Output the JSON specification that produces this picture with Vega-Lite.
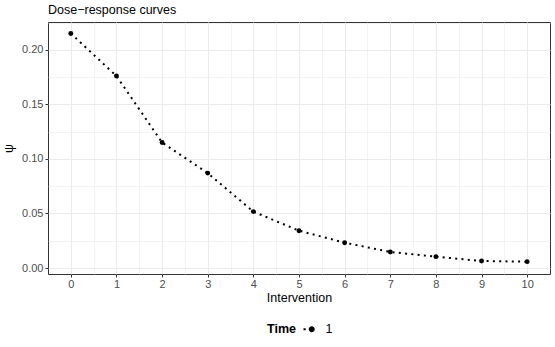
{
  "$schema": "https://vega.github.io/schema/vega-lite/v6.json",
  "width": 502,
  "height": 252,
  "autosize": {"type": "none"},
  "padding": {"left": 48, "top": 22, "right": 5, "bottom": 73},
  "background": "white",
  "title": {"text": "Dose−response curves", "anchor": "start", "frame": "group", "fontSize": 12.5, "fontWeight": "normal", "font": "Liberation Sans", "color": "black", "offset": 0},
  "config": {
    "view": {"stroke": "#333333", "strokeWidth": 1},
    "axis": {
      "domain": false,
      "labelFont": "Liberation Sans",
      "labelFontSize": 11,
      "labelColor": "#4D4D4D",
      "titleFont": "Liberation Sans",
      "titleFontSize": 12.5,
      "titleFontWeight": "normal",
      "titleColor": "black",
      "tickColor": "#333333",
      "tickSize": 3,
      "gridColor": "#EBEBEB"
    }
  },
  "data": {
    "values": [
      {"Intervention": 0, "psi": 0.215, "Time": "1"},
      {"Intervention": 1, "psi": 0.176, "Time": "1"},
      {"Intervention": 2, "psi": 0.115, "Time": "1"},
      {"Intervention": 3, "psi": 0.087, "Time": "1"},
      {"Intervention": 4, "psi": 0.0517, "Time": "1"},
      {"Intervention": 5, "psi": 0.0342, "Time": "1"},
      {"Intervention": 6, "psi": 0.0232, "Time": "1"},
      {"Intervention": 7, "psi": 0.0147, "Time": "1"},
      {"Intervention": 8, "psi": 0.0104, "Time": "1"},
      {"Intervention": 9, "psi": 0.0064, "Time": "1"},
      {"Intervention": 10, "psi": 0.0058, "Time": "1"}
    ]
  },
  "encoding": {
    "x": {
      "field": "Intervention", "type": "quantitative",
      "scale": {"domain": [-0.5, 10.5], "nice": false, "zero": false},
      "axis": {
        "title": "Intervention",
        "values": [0, 0.5, 1, 1.5, 2, 2.5, 3, 3.5, 4, 4.5, 5, 5.5, 6, 6.5, 7, 7.5, 8, 8.5, 9, 9.5, 10],
        "labelExpr": "datum.value % 1 === 0 ? format(datum.value, 'd') : ''",
        "tickOpacity": {"condition": {"test": "datum.value % 1 === 0", "value": 1}, "value": 0},
        "gridWidth": {"condition": {"test": "datum.value % 1 === 0", "value": 1}, "value": 0.6},
        "labelPadding": 1.5,
        "titlePadding": 2,
        "labelFlush": false,
        "labelOverlap": false
      }
    },
    "y": {
      "field": "psi", "type": "quantitative",
      "scale": {"domain": [-0.0055, 0.2255], "nice": false, "zero": false},
      "axis": {
        "title": "ψ",
        "values": [0, 0.025, 0.05, 0.075, 0.1, 0.125, 0.15, 0.175, 0.2, 0.225],
        "labelExpr": "(round(datum.value*1000) % 50 === 0) ? format(datum.value, '.2f') : ''",
        "tickOpacity": {"condition": {"test": "round(datum.value*1000) % 50 === 0", "value": 1}, "value": 0},
        "gridWidth": {"condition": {"test": "round(datum.value*1000) % 50 === 0", "value": 1}, "value": 0.6},
        "labelPadding": 2,
        "titlePadding": 6,
        "labelFlush": false,
        "labelOverlap": false
      }
    }
  },
  "layer": [
    {
      "mark": {"type": "line", "color": "black", "strokeWidth": 2, "strokeDash": [2, 4.3]}
    },
    {
      "mark": {"type": "point", "filled": true, "size": 24, "opacity": 1},
      "encoding": {
        "color": {
          "field": "Time", "type": "nominal",
          "scale": {"range": ["black"]},
          "legend": {
            "orient": "none",
            "legendX": 219,
            "legendY": 301,
            "direction": "horizontal",
            "title": "Time",
            "titleOrient": "left",
            "titleFont": "Liberation Sans",
            "titleFontSize": 12.5,
            "titleFontWeight": "bold",
            "titleColor": "black",
            "titlePadding": 9.5,
            "labelFont": "Liberation Sans",
            "labelFontSize": 12.5,
            "labelFontWeight": "normal",
            "labelColor": "black",
            "labelOffset": 7.5,
            "symbolType": "M-1.65,-0.22h0.44v0.44h-0.44z M-0.6,0a0.6,0.6 0 1,0 1.2,0a0.6,0.6 0 1,0 -1.2,0",
            "symbolSize": 100,
            "symbolFillColor": "black",
            "symbolStrokeWidth": 0
          }
        }
      }
    }
  ]
}
